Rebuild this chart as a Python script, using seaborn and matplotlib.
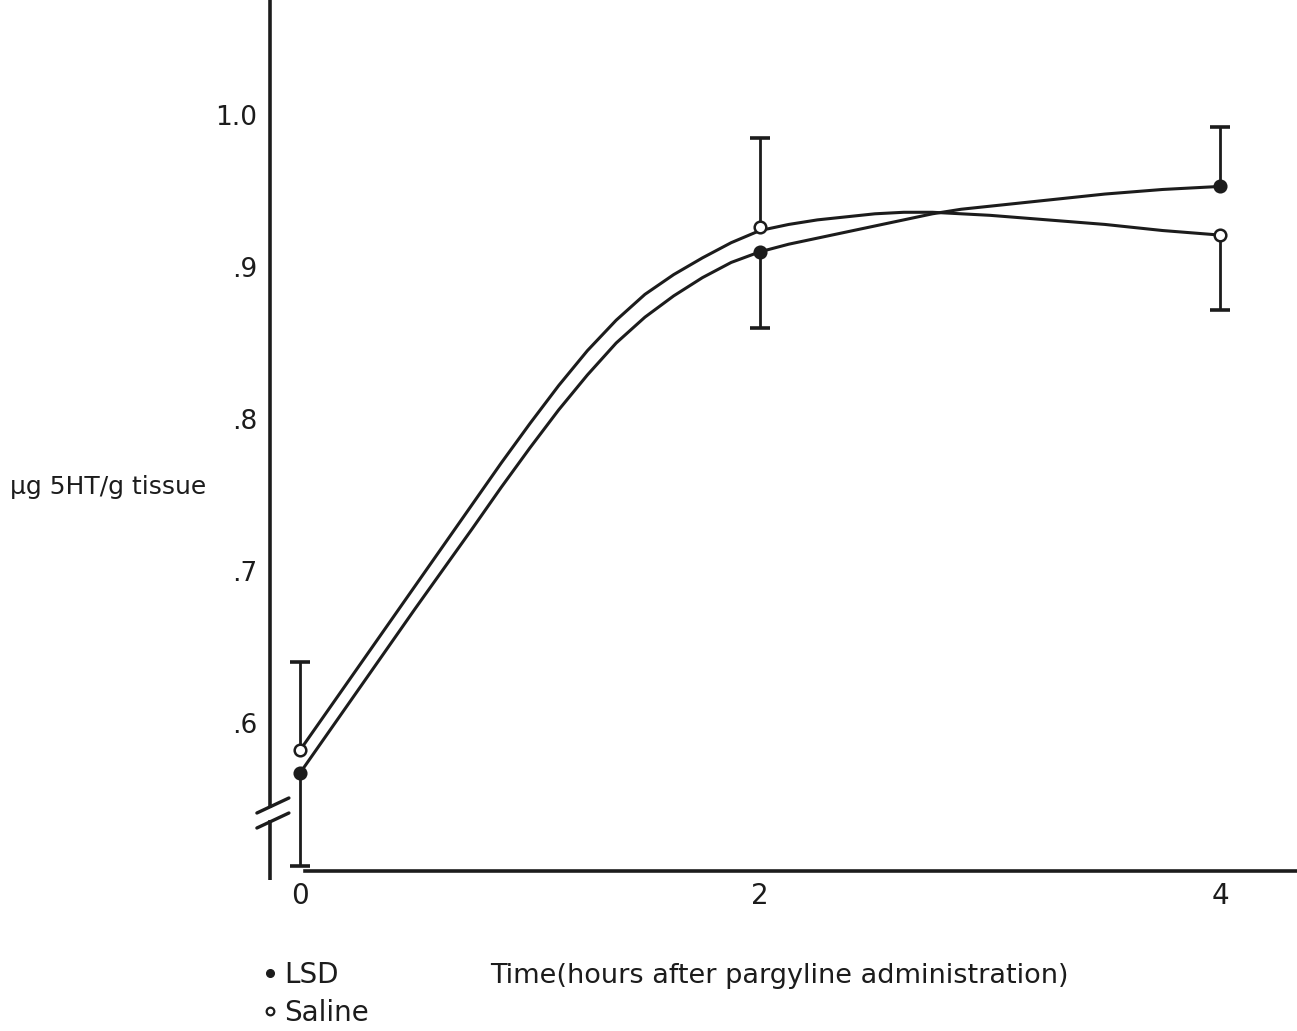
import numpy as np
import pandas as pd
import matplotlib
matplotlib.use('Agg')
import matplotlib.pyplot as plt
from matplotlib.lines import Line2D
import seaborn as sns

sns.set_theme(context="notebook", style='white')
plt.rcParams['font.family'] = ['DejaVu Sans']

INK = '#1c1c1c'

# measured points (hours after pargyline) and the end of each one-sided error bar
times = [0, 2, 4]
lsd_mean = [0.567, 0.910, 0.953]
saline_mean = [0.582, 0.926, 0.921]
lsd_bar_end = [0.506, 0.860, 0.992]
saline_bar_end = [0.640, 0.985, 0.872]

# hand drawn smooth curves (denser where they bend)
curve_t = [0, 0.25, 0.5, 0.75, 0.875, 1.0, 1.125, 1.25, 1.375, 1.5, 1.625,
           1.75, 1.875, 2.0, 2.125, 2.25, 2.375, 2.5, 2.625, 2.75, 2.875,
           3.0, 3.25, 3.5, 3.75, 4.0]
lsd_curve = [0.567, 0.621, 0.675, 0.728, 0.755, 0.781, 0.806, 0.829, 0.850,
             0.867, 0.881, 0.893, 0.903, 0.910, 0.915, 0.919, 0.923, 0.927,
             0.931, 0.935, 0.938, 0.940, 0.944, 0.948, 0.951, 0.953]
saline_curve = [0.582, 0.636, 0.690, 0.744, 0.771, 0.797, 0.822, 0.845, 0.865,
                0.882, 0.895, 0.906, 0.916, 0.924, 0.928, 0.931, 0.933, 0.935,
                0.936, 0.936, 0.935, 0.934, 0.931, 0.928, 0.924, 0.921]

y_ticks = [0.6, 0.7, 0.8, 0.9, 1.0]
y_ticklabels = ['.6', '.7', '.8', '.9', '1.0']
x_ticks = [0, 2, 4]
x_ticklabels = ['0', '2', '4']

curves = pd.DataFrame({'t': curve_t * 2,
                       'value': lsd_curve + saline_curve,
                       'group': ['LSD'] * len(curve_t) + ['Saline'] * len(curve_t)})

W, H = 1297, 1031
fig = plt.figure(figsize=(W / 100, H / 100), dpi=100)
fig.patch.set_facecolor('white')
ax = fig.add_axes([270 / W, 1 - 871 / H, 1 - 270 / W, 871 / H])
ax.set_facecolor('white')

sns.lineplot(data=curves, x='t', y='value', units='group', estimator=None,
             color=INK, lw=2.2, ax=ax, zorder=2,
             solid_joinstyle='round', solid_capstyle='round')

# one-sided error bars
for means, ends in [(lsd_mean, lsd_bar_end), (saline_mean, saline_bar_end)]:
    ax.vlines(times, means, ends, color=INK, lw=2.0, zorder=2)
    ax.plot(times, ends, ls='none', marker='_', ms=15, mew=2.6, color=INK, zorder=2)

sns.scatterplot(x=times, y=lsd_mean, color=INK, edgecolor=INK, s=80,
                linewidth=1.2, ax=ax, zorder=4)
sns.scatterplot(x=times, y=saline_mean, color='white', edgecolor=INK, s=70,
                linewidth=1.8, ax=ax, zorder=4)

ax.set_xlim(-0.13, (W - 300) / 230)
y_bottom = 1 - (871 - 115) / 1520
ax.set_ylim(y_bottom, 1 + 115 / 1520)

ax.set_xticks(x_ticks)
ax.set_xticklabels(x_ticklabels)
ax.set_yticks(y_ticks)
ax.set_yticklabels(y_ticklabels)
ax.tick_params(axis='y', direction='inout', length=14, width=1.8, color=INK,
               labelsize=19, labelcolor=INK, pad=2)
ax.tick_params(axis='x', direction='inout', length=8, width=1.6, color=INK,
               labelsize=20, labelcolor=INK, pad=4)

for side in ['top', 'right']:
    ax.spines[side].set_visible(False)
ax.spines['left'].set_color(INK)
ax.spines['left'].set_linewidth(2.6)
ax.spines['bottom'].set_color(INK)
ax.spines['bottom'].set_linewidth(2.6)
ax.spines['bottom'].set_bounds(0.02, (W - 300) / 230)

# axis break on the y axis
gap_top = 1 - (806 - 115) / 1520
gap_bot = 1 - (820 - 115) / 1520
ax.spines['left'].set_bounds(gap_top, 1 + 115 / 1520)
ax.plot([-0.13, -0.13], [gap_bot, 1 - (880 - 115) / 1520], color=INK, lw=2.6,
        clip_on=False, solid_capstyle='butt')
for dy in [0, 15]:
    ax.plot([(257 - 300) / 230, (289 - 300) / 230],
            [1 - (813 + dy - 115) / 1520, 1 - (798 + dy - 115) / 1520],
            color=INK, lw=2.4, clip_on=False)

ax.set_xlabel('Time(hours after pargyline administration)', fontsize=19.5, color=INK)
ax.xaxis.set_label_coords((779 - 270) / (W - 270), (871 - 963) / 871)
ax.set_ylabel('\u00b5g 5HT/g tissue', fontsize=18, color=INK, rotation=0,
              ha='left', va='center')
ax.yaxis.set_label_coords((10 - 270) / (W - 270), (871 - 487) / 871)

handles = [Line2D([], [], ls='none', marker='o', ms=5.5, color=INK),
           Line2D([], [], ls='none', marker='o', ms=5.5, mfc='white', mec=INK, mew=1.6)]
fig.legend(handles, ['LSD', 'Saline'], loc='upper left',
           bbox_to_anchor=(262 / W, 1 - 961 / H), frameon=False,
           handlelength=0.6, handletextpad=0.2, labelspacing=0.35,
           fontsize=20, labelcolor=INK, borderaxespad=0, borderpad=0)

fig.savefig('out.png', dpi=100)
